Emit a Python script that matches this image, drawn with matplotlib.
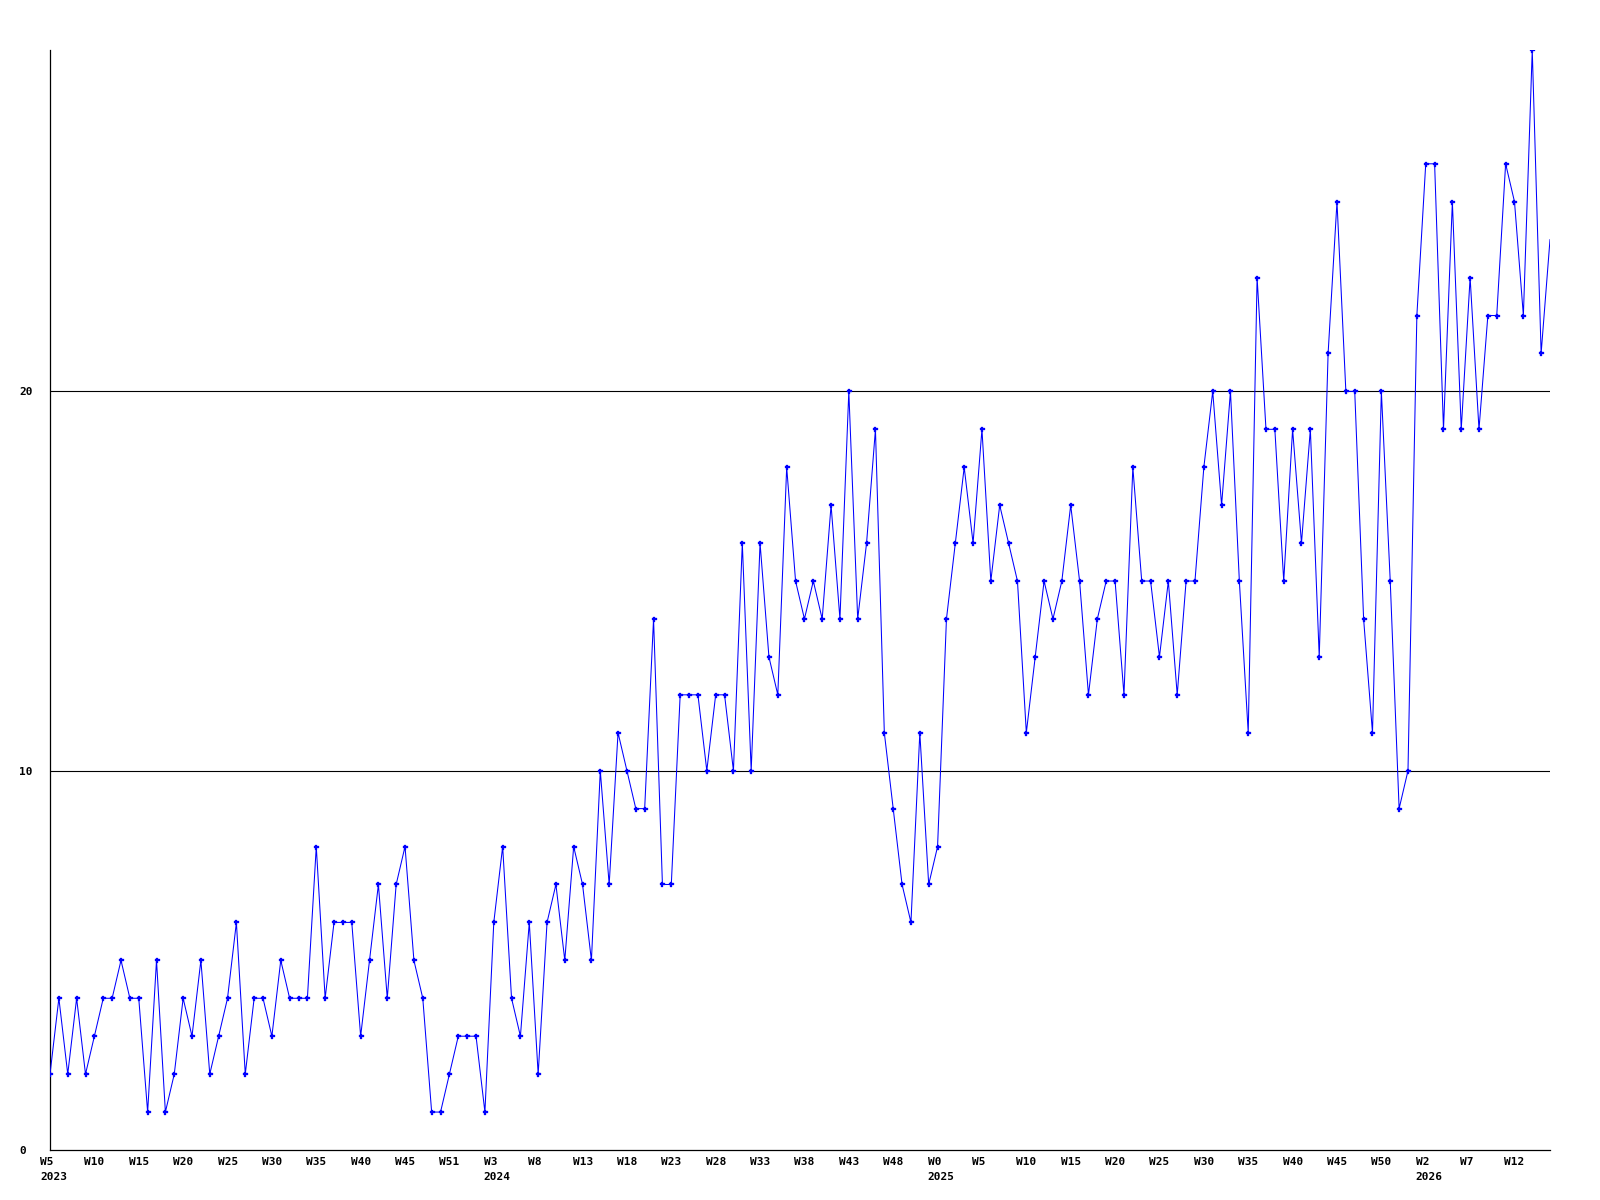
import matplotlib
matplotlib.use("Agg")
import matplotlib.pyplot as plt
from matplotlib.transforms import ScaledTranslation
import numpy as np

# ---- data ----
values = [
    2, 4, 2, 4, 2, 3, 4, 4, 5, 4, 4, 1, 5, 1, 2, 4, 3, 5, 2, 3,
    4, 6, 2, 4, 4, 3, 5, 4, 4, 4, 8, 4, 6, 6, 6, 3, 5, 7, 4, 7,
    8, 5, 4, 1, 1, 2, 3, 3, 3,
    1, 6, 8, 4, 3, 6, 2, 6, 7, 5, 8, 7, 5, 10, 7, 11, 10, 9, 9, 14,
    7, 7, 12, 12, 12, 10, 12, 12, 10, 16, 10, 16, 13, 12, 18, 15, 14, 15, 14, 17,
    14, 20, 14, 16,
    19, 11, 9, 7, 6, 11, 7, 8, 14, 16, 18, 16, 19, 15, 17, 16, 15, 11, 13, 15,
    14, 15, 17, 15, 12, 14, 15, 15, 12, 18, 15, 15, 13, 15, 12, 15, 15, 18, 20, 17,
    20, 15, 11, 23, 19, 19, 15,
    19, 16, 19, 13, 21, 25, 20, 20, 14, 11, 20, 15, 9, 10, 22, 26, 26, 19, 25, 19,
    23, 19, 22, 22, 26, 25, 22, 29, 21, 24,
]
week_labels = ["W5", "W10", "W15", "W20", "W25", "W30", "W35", "W40", "W45", "W51",
               "W3", "W8", "W13", "W18", "W23", "W28", "W33", "W38", "W43", "W48",
               "W0", "W5", "W10", "W15", "W20", "W25", "W30", "W35", "W40", "W45",
               "W50", "W2", "W7", "W12"]
year_labels = {0: "2023", 10: "2024", 20: "2025", 31: "2026"}
y_ticks = [0, 10, 20]

# ---- figure ----
fig = plt.figure(figsize=(16, 12), dpi=100)
ax = fig.add_axes([50 / 1600, 50 / 1200, 1500 / 1600, 1100 / 1200])

x = np.arange(len(values))
ax.plot(x, values, color="#0000ff", lw=0.75, zorder=3)
ax.plot(x[:-1], values[:-1], ls="none", marker="P", ms=3.6, color="#0000ff",
        mec="#0000ff", mew=0.2, zorder=4)

ax.set_xlim(0, len(values) - 1)
ax.set_ylim(0, max(values))

for v in y_ticks[1:]:
    ax.axhline(v, color="black", lw=0.8, zorder=2)

for side in ("top", "right"):
    ax.spines[side].set_visible(False)
for side in ("left", "bottom"):
    ax.spines[side].set_linewidth(0.9)
    ax.spines[side].set_color("black")

font = dict(family="DejaVu Sans Mono", weight="bold", size=8)

# x tick labels
tick_pos = list(range(0, len(values), 5))[:len(week_labels)]
labels = [w + ("\n" + year_labels[i] if i in year_labels else "")
          for i, w in enumerate(week_labels)]
ax.set_xticks(tick_pos)
ax.set_xticklabels(labels, fontdict=font, linespacing=1.6)
ax.tick_params(axis="x", length=0, pad=5)
off = ScaledTranslation(-10 / 100, 0, fig.dpi_scale_trans)
for lbl in ax.get_xticklabels():
    lbl.set_horizontalalignment("left")
    lbl.set_multialignment("left")
    lbl.set_transform(lbl.get_transform() + off)

# y tick labels
ax.set_yticks(y_ticks)
ax.set_yticklabels([str(v) for v in y_ticks], fontdict=font)
ax.tick_params(axis="y", length=0, pad=22.3)
for lbl in ax.get_yticklabels():
    lbl.set_horizontalalignment("left")

fig.savefig("out.png", dpi=100)
